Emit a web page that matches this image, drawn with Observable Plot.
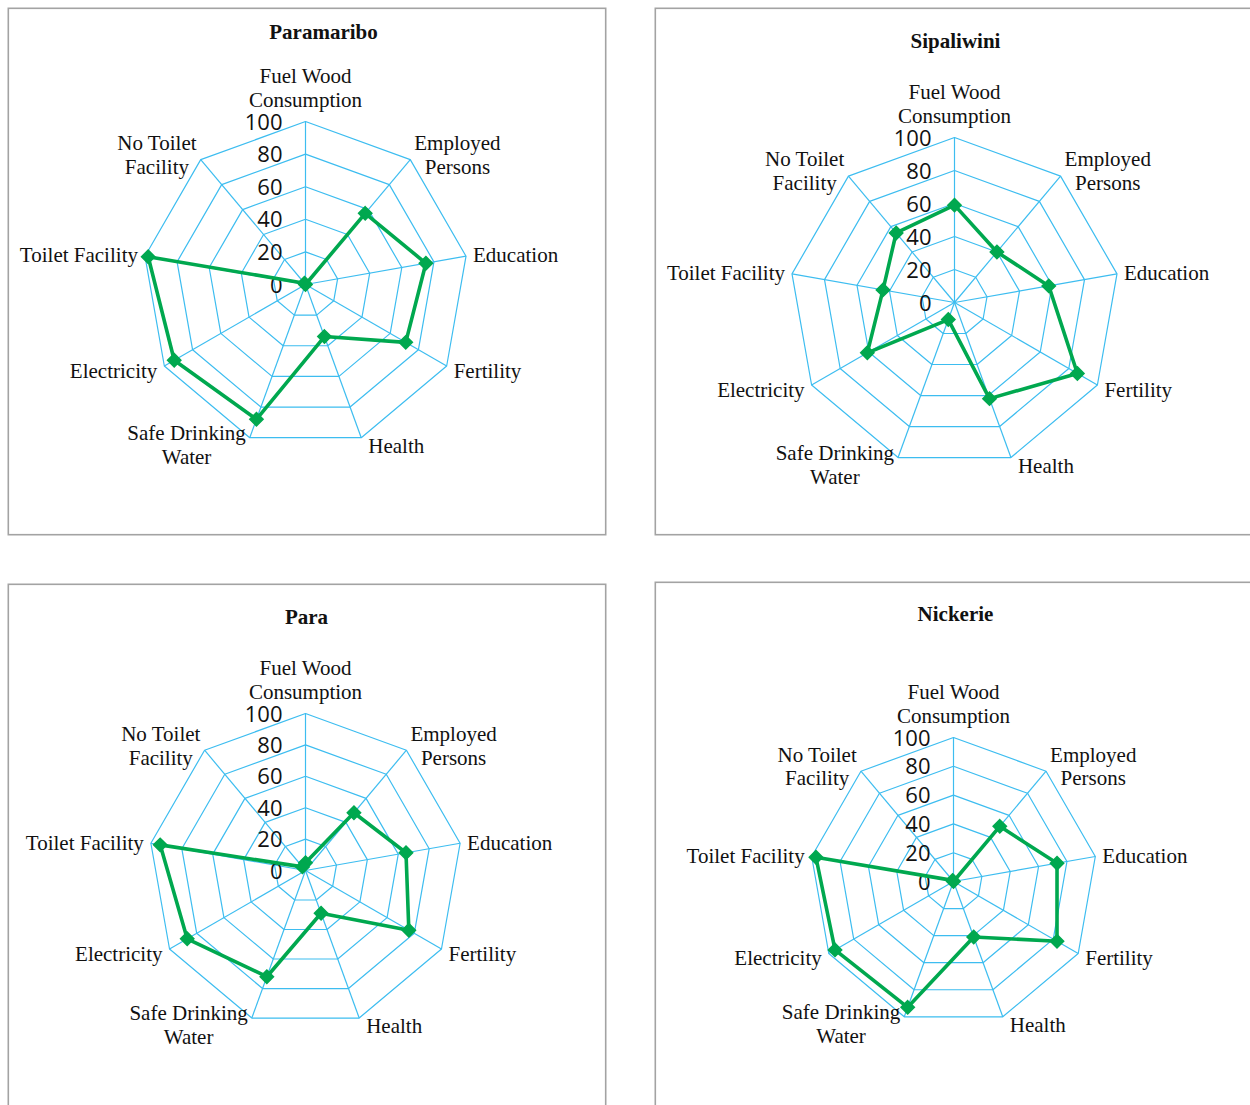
<!DOCTYPE html>
<html>
<head>
<meta charset="utf-8">
<script src="https://cdn.jsdelivr.net/npm/d3@7"></script>
<script src="https://cdn.jsdelivr.net/npm/@observablehq/plot@0.6"></script>
<style>
  body { margin: 0; background: #fff; }
  #page { position: relative; width: 1250px; height: 1105px; overflow: hidden; background: #fff; }
  .panel { position: absolute; overflow: visible; }
  .panel svg { display: block; overflow: visible; max-width: none !important; }
</style>
</head>
<body>
<div id="page"></div>
<script>
// Development indicators (scaled 0–100) by district, clockwise from the top spoke
const indicators = [
  "Fuel Wood\nConsumption", "Employed\nPersons", "Education", "Fertility", "Health",
  "Safe Drinking\nWater", "Electricity", "Toilet Facility", "No Toilet\nFacility"
];
const districts = ["Paramaribo", "Sipaliwini", "Para", "Nickerie"];
const paramaribo = [0, 57, 75, 71, 34, 88, 93, 98, 1];
const sipaliwini = [59, 40, 58, 86, 62, 11, 61, 44, 55];
const para       = [5, 48, 65, 76, 29, 72, 87, 94, 3];
const nickerie   = [0, 50, 73, 83, 41, 93, 95, 97, 1];
const ringTicks  = [0, 20, 40, 60, 80, 100];

const seriesByDistrict = { Paramaribo: paramaribo, Sipaliwini: sipaliwini, Para: para, Nickerie: nickerie };

// Panel boxes on the page, the radar centre inside each box and its outer radius (px)
const layout = {
  Paramaribo: { left: 7,   top: 7,   width: 599, height: 528, cx: 298, cy: 277, r: 163, tx: 316, ty: 25 },
  Sipaliwini: { left: 654, top: 7,   width: 602, height: 528, cx: 300, cy: 295, r: 165, tx: 301, ty: 34 },
  Para:       { left: 7,   top: 583, width: 599, height: 530, cx: 298, cy: 287, r: 157, tx: 299, ty: 34 },
  Nickerie:   { left: 654, top: 581, width: 602, height: 530, cx: 299, cy: 300, r: 144, tx: 301, ty: 33 }
};

const GRID = "#3dbdf0";
const SERIES = "#00a84f";
const LABEL_FONT = "Liberation Serif";
const LABEL_SIZE = 21;
const LINE_PX = 24;

// Polar helpers: spoke i sits at i * 40° clockwise from the top
const n = indicators.length;
const angle = i => (i * 2 * Math.PI) / n;
const px = (v, i) => v * Math.sin(angle(i));
const py = (v, i) => v * Math.cos(angle(i));

// Measure label lines so wrapped labels can be centred beside their spoke
const ctx = document.createElement("canvas").getContext("2d");
ctx.font = `${LABEL_SIZE}px "${LABEL_FONT}"`;
const measure = s => ctx.measureText(s).width;

function labelPlacement(label, i) {
  const a = angle(i), s = Math.sin(a), c = Math.cos(a);
  const lines = label.split("\n");
  if (Math.abs(s) < 0.05) return { textAnchor: "middle", dx: 0, dy: -(lines.length * LINE_PX) / 2 - 10 };
  if (lines.length > 1) {
    const w = d3.max(lines, measure);
    return { textAnchor: "middle", dx: Math.sign(s) * (w / 2 + 4), dy: -c * 7 };
  }
  return { textAnchor: s > 0 ? "start" : "end", dx: Math.sign(s) * 7, dy: -c * 8 };
}

const rings = ringTicks.filter(t => t > 0).flatMap(level => indicators.map((_, i) => ({ level, i })));
const spokes = indicators.map((_, i) => i);

function radar(name) {
  const L = layout[name];
  const values = seriesByDistrict[name];
  const pts = values.map((v, i) => ({ v, i }));

  const labelMarks = indicators.map((label, i) => {
    const p = labelPlacement(label, i);
    return Plot.text([{ label, i }], {
      x: d => px(100, d.i), y: d => py(100, d.i), text: "label",
      textAnchor: p.textAnchor, dx: p.dx, dy: p.dy, lineAnchor: "middle",
      lineHeight: LINE_PX / LABEL_SIZE, fontFamily: LABEL_FONT, fontSize: LABEL_SIZE, fill: "#111"
    });
  });

  return Plot.plot({
    width: L.width,
    height: L.height,
    margin: 0,
    x: { type: "linear", domain: [-100, 100], range: [L.cx - L.r, L.cx + L.r], axis: null },
    y: { type: "linear", domain: [-100, 100], range: [L.cy + L.r, L.cy - L.r], axis: null },
    style: { background: "#fff", overflow: "visible", maxWidth: "none" },
    marks: [
      Plot.frame({ stroke: "#a3a3a3", strokeWidth: 1.6, inset: 0.8 }),
      Plot.line(rings, {
        x: d => px(d.level, d.i), y: d => py(d.level, d.i), z: "level",
        curve: "linear-closed", stroke: GRID, strokeWidth: 1.2
      }),
      Plot.link(spokes, {
        x1: 0, y1: 0, x2: i => px(100, i), y2: i => py(100, i),
        stroke: GRID, strokeWidth: 1.2
      }),
      Plot.text(ringTicks, {
        x: 0, y: d => d, text: d => String(d), textAnchor: "end", dx: -23, dy: 1,
        fontFamily: "Open Sans", fontSize: 22, fill: "#111"
      }),
      ...labelMarks,
      Plot.line(pts, {
        x: d => px(d.v, d.i), y: d => py(d.v, d.i),
        curve: "linear-closed", stroke: SERIES, strokeWidth: 3.6, strokeLinejoin: "miter"
      }),
      Plot.dot(pts, {
        x: d => px(d.v, d.i), y: d => py(d.v, d.i),
        symbol: "diamond2", r: 6, fill: SERIES, stroke: SERIES
      }),
      Plot.text([name], {
        frameAnchor: "top-left", dx: L.tx, dy: L.ty, text: d => d,
        textAnchor: "middle", lineAnchor: "middle",
        fontFamily: LABEL_FONT, fontWeight: "bold", fontSize: 21, fill: "#111"
      })
    ]
  });
}

const page = document.getElementById("page");
for (const name of districts) {
  const L = layout[name];
  const div = document.createElement("div");
  div.className = "panel";
  div.style.left = L.left + "px";
  div.style.top = L.top + "px";
  div.style.width = L.width + "px";
  div.style.height = L.height + "px";
  div.appendChild(radar(name));
  page.appendChild(div);
}
</script>
</body>
</html>
